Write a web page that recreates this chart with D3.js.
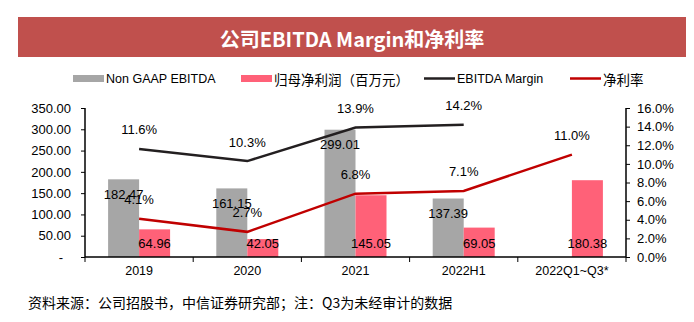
<!DOCTYPE html>
<html>
<head>
<meta charset="utf-8">
<script src="https://cdn.jsdelivr.net/npm/d3@7"></script>
<style>
  body { margin: 0; background: #fff; }
  svg { display: block; font-family: "Liberation Sans", Arial, sans-serif; }
</style>
</head>
<body>
<svg id="chart" width="694" height="322"></svg>
<script>
let categories = ["2019", "2020", "2021", "2022H1", "2022Q1~Q3*"]
let ebitda = [182.47, 161.15, 299.01, 137.39, null]
let netProfit = [64.96, 42.05, 145.05, 69.05, 180.38]
let ebitdaMargin = [11.6, 10.3, 13.9, 14.2, null]
let netMargin = [4.1, 2.7, 6.8, 7.1, 11.0]
let leftTicks = [0, 50, 100, 150, 200, 250, 300, 350]
let rightTicks = [0, 2, 4, 6, 8, 10, 12, 14, 16]

let svg = d3.select("#chart")
let cjk = "'Noto Sans CJK SC', 'Liberation Sans', sans-serif"

// title band
svg.append("rect").attr("x", 18).attr("y", 17).attr("width", 668).attr("height", 40).attr("fill", "#C0504D")
svg.append("text").attr("x", 352).attr("y", 38).attr("text-anchor", "middle").attr("dominant-baseline", "central")
    .attr("fill", "#fff").attr("font-size", 20).attr("font-weight", "bold").style("font-family", cjk)
    .text("公司EBITDA Margin和净利率")

let plotLeft = 85, plotRight = 626, plotTop = 108, plotBottom = 257

let x = d3.scaleBand().domain(categories).range([plotLeft, plotRight])
let yL = d3.scaleLinear().domain([0, 350]).range([plotBottom, plotTop])
let yR = d3.scaleLinear().domain([0, 16]).range([plotBottom, plotTop])
let barW = 31

// bars
let g = svg.append("g")
g.selectAll(".gray").data(categories.map((c, i) => ({c: c, v: ebitda[i]})).filter(d => d.v != null))
    .enter().append("rect")
    .attr("x", d => x(d.c) + x.bandwidth() / 2 - barW)
    .attr("y", d => yL(d.v)).attr("width", barW).attr("height", d => plotBottom - yL(d.v))
    .attr("fill", "#A6A6A6")
g.selectAll(".pink").data(categories.map((c, i) => ({c: c, v: netProfit[i]})))
    .enter().append("rect")
    .attr("x", d => x(d.c) + x.bandwidth() / 2)
    .attr("y", d => yL(d.v)).attr("width", barW).attr("height", d => plotBottom - yL(d.v))
    .attr("fill", "#FF6178")

// axes
let axL = svg.append("g").attr("transform", `translate(${plotLeft},0)`)
    .call(d3.axisLeft(yL).tickValues(leftTicks).tickSize(4).tickPadding(10)
        .tickFormat(d => d === 0 ? "-" : d3.format(".2f")(d)))
axL.selectAll("text").filter(d => d === 0).attr("dx", -8)
let axR = svg.append("g").attr("transform", `translate(${plotRight},0)`)
    .call(d3.axisRight(yR).tickValues(rightTicks).tickSize(4).tickPadding(7)
        .tickFormat(d => d3.format(".1f")(d) + "%"))
let axB = svg.append("g").attr("transform", `translate(0,${plotBottom})`)
    .call(d3.axisBottom(x).tickSize(0).tickPadding(9))
axB.append("g").selectAll("line").data(d3.range(categories.length + 1)).enter().append("line")
    .attr("x1", i => plotLeft + i * x.bandwidth()).attr("x2", i => plotLeft + i * x.bandwidth())
    .attr("y1", 0).attr("y2", 5)
;[axL, axR, axB].forEach(a => {
    a.selectAll("path").attr("stroke", "#000").attr("stroke-width", 1.5)
    a.selectAll("line").attr("stroke", "#000")
    a.selectAll("text").attr("font-size", 13).attr("fill", "#000").style("font-family", "'Liberation Sans', Arial, sans-serif")
})
axL.select("path").attr("d", `M0,${plotTop}V${plotBottom}`)
axR.select("path").attr("d", `M0,${plotTop}V${plotBottom}`)
axB.select("path").attr("d", `M${plotLeft},0H${plotRight}`)
axB.selectAll("text").attr("font-size", 12.5)

// lines
let cx = c => x(c) + x.bandwidth() / 2
let lineFn = (scale) => d3.line().defined(d => d.v != null).x(d => cx(d.c)).y(d => scale(d.v))
let mData = categories.map((c, i) => ({c: c, v: ebitdaMargin[i]}))
let nData = categories.map((c, i) => ({c: c, v: netMargin[i]}))
svg.append("path").datum(mData).attr("d", lineFn(yR)).attr("fill", "none").attr("stroke", "#231F20").attr("stroke-width", 2.5)
svg.append("path").datum(nData).attr("d", lineFn(yR)).attr("fill", "none").attr("stroke", "#C00000").attr("stroke-width", 2.5)

// labels (the reference itself lets some of these overlap)
let labels = svg.append("g").attr("font-size", 13).attr("fill", "#000").attr("text-anchor", "middle").attr("dominant-baseline", "central")
ebitda.forEach((v, i) => {
    if (v == null) return
    labels.append("text").attr("x", cx(categories[i]) - barW / 2).attr("y", yL(v) + 15).text(d3.format(".2f")(v))
})
netProfit.forEach((v, i) => {
    labels.append("text").attr("x", cx(categories[i]) + barW / 2).attr("y", plotBottom - 14).text(d3.format(".2f")(v))
})
mData.concat(nData).forEach(d => {
    if (d.v == null) return
    labels.append("text").attr("x", cx(d.c)).attr("y", yR(d.v) - 19).text(d3.format(".1f")(d.v) + "%")
})

// legend
let legend = svg.append("g").attr("font-size", 12.5)
let items = [
    {name: "Non GAAP EBITDA", x: 73, type: "rect", color: "#A6A6A6"},
    {name: "归母净利润（百万元）", x: 241, type: "rect", color: "#FF6178"},
    {name: "EBITDA Margin", x: 424, type: "line", color: "#231F20"},
    {name: "净利率", x: 570, type: "line", color: "#C00000"}
]
items.forEach(it => {
    if (it.type === "rect") {
        legend.append("rect").attr("x", it.x).attr("y", 75).attr("width", 31).attr("height", 7).attr("fill", it.color)
    } else {
        legend.append("line").attr("x1", it.x).attr("x2", it.x + 31).attr("y1", 78.5).attr("y2", 78.5)
            .attr("stroke", it.color).attr("stroke-width", 2.5)
    }
    let isCjk = /[^\x00-\x7f]/.test(it.name)
    legend.append("text").attr("x", it.x + 33).attr("y", 79).attr("dominant-baseline", "central")
        .attr("font-size", isCjk ? 13.5 : 12.5)
        .style("font-family", isCjk ? cjk : "'Liberation Sans', Arial, sans-serif")
        .text(it.name)
})

// source
svg.append("text").attr("x", 28).attr("y", 302).attr("dominant-baseline", "central")
    .attr("font-size", 14).style("font-family", cjk)
    .text("资料来源：公司招股书，中信证券研究部；注：Q3为未经审计的数据")
</script>
</body>
</html>
